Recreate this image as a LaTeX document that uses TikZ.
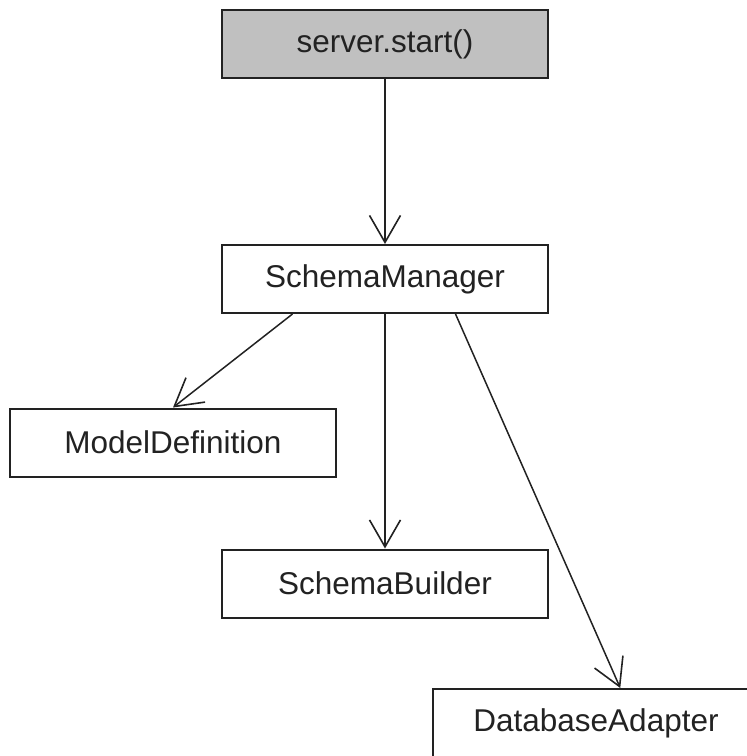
\documentclass[tikz,border=0pt]{standalone}
\usepackage{fontspec}
\setmainfont{Liberation Sans}
\usetikzlibrary{arrows.meta,calc}
\definecolor{callgray}{HTML}{C0C0C0}
\definecolor{ink}{HTML}{222222}
\begin{document}
\begin{tikzpicture}[x=1pt,y=-1pt,
  box/.style={draw=ink,line width=2pt,fill=white,minimum width=326pt,minimum height=68pt,
    inner sep=0pt,font=\fontsize{31.5}{38}\selectfont,text=ink},
  call/.style={box,fill=callgray},
  link/.style={draw=ink,line width=1.5pt,-{Straight Barb[length=27pt,width=31pt,line width=1.6pt]}}]
  \useasboundingbox (0,0) rectangle (747,756);
  \clip (0,0) rectangle (747,756);
  % classes
  \node[call] (start)   at (385,44)    {server.start()};
  \node[box]  (manager) at (385,279)   {SchemaManager};
  \node[box]  (model)   at (173,442.5) {ModelDefinition};
  \node[box]  (builder) at (385,583.5) {SchemaBuilder};
  \node[box]  (adapter) at (596,723)   {DatabaseAdapter};
  % dependencies
  \draw[link] (start.south) -- (manager.north);
  \draw[link] ($(manager.south west)!0.218!(manager.south east)$) -- (model.north);
  \draw[link] (manager.south) -- (builder.north);
  \draw[link] ($(manager.south west)!0.715!(manager.south east)$) --
              ($(adapter.north west)!0.574!(adapter.north east)$);
\end{tikzpicture}
\end{document}
